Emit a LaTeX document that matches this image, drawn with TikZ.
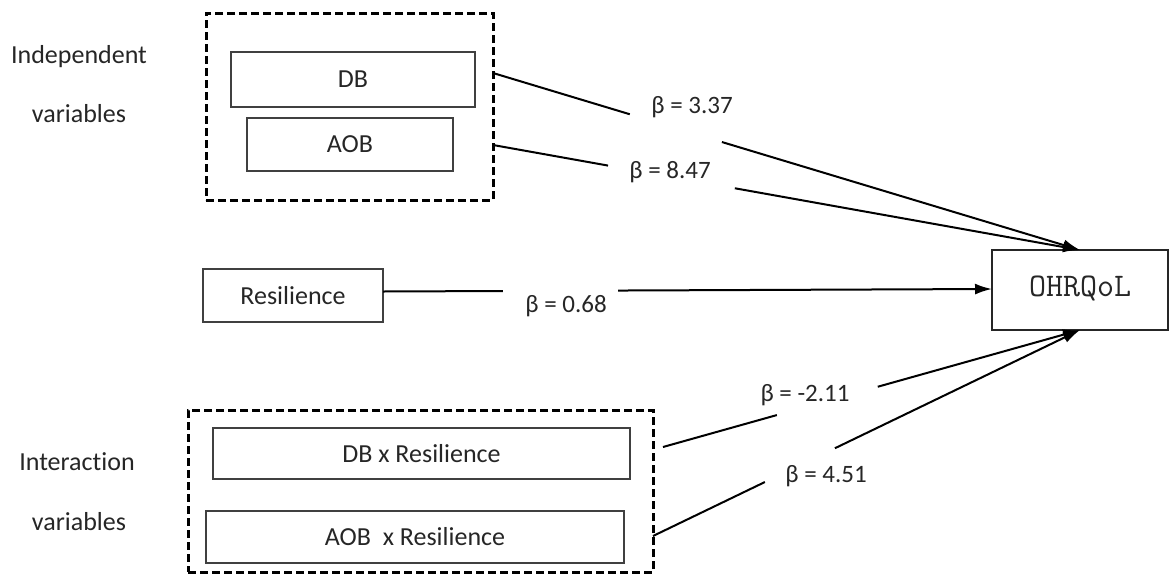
\documentclass[tikz,border=0pt]{standalone}
\usepackage{fontspec}
\setmainfont{Carlito}[Ligatures={NoCommon,NoRare}]
\usetikzlibrary{arrows.meta,calc}
\begin{document}
\begin{tikzpicture}[x=1pt,y=-1pt,
  every node/.style={font=\fontsize{26}{30}\selectfont, text=black!85},
  varbox/.style={draw=black!75, line width=1.6pt, inner sep=0pt, outer sep=0pt},
  group/.style={draw=black, line width=3pt, dash pattern=on 8pt off 4pt, inner sep=0pt, outer sep=0pt},
  link/.style={line width=2pt, black},
  tip/.style={link, -{Latex[length=17pt,width=11pt]}},
  coef/.style={anchor=base, font=\fontsize{25}{29}\selectfont},
  side/.style={anchor=base}]
\useasboundingbox (0,0) rectangle (1169,576);

% left-hand captions
\node[side] (capA1) at (79,63) {Independent};
\node[side] (capA2) at (79,122) {variables};
\node[side] (capB1) at (77,470) {Interaction};
\node[side] (capB2) at (79,530) {variables};

% independent variables
\node[group, minimum width=287pt, minimum height=187pt] (grpA) at (349.5,106.5) {};
\node[varbox, minimum width=244pt, minimum height=55pt] (db) at (353,79.5) {DB};
\node[varbox, minimum width=206pt, minimum height=53pt] (aob) at (350,144.5) {AOB};

% moderator
\node[varbox, minimum width=180pt, minimum height=53pt] (res) at (293,295.5) {Resilience};

% interaction terms
\node[group, minimum width=465pt, minimum height=162pt] (grpB) at (420.5,491) {};
\node[varbox, minimum width=417pt, minimum height=51pt] (dbr) at (421.5,453.5) {DB x Resilience};
\node[varbox, minimum width=418pt, minimum height=52pt] (aobr) at (415,537) {AOB\ \ x Resilience};

% outcome
\node[varbox, draw=black!85, minimum width=176pt, minimum height=80pt] (ohr) at (1080,290)
  {\raisebox{8pt}{\ttfamily\fontsize{33}{35}\selectfont OHRQoL}};

% start and end points of the paths
\coordinate (s1) at ([yshift=-60pt]grpA.north east);
\coordinate (s2) at ([yshift=-132pt]grpA.north east);
\coordinate (s3) at ([yshift=4pt]res.east);
\coordinate (s4) at ([xshift=10pt,yshift=44pt]grpB.east);
\coordinate (s5) at ([yshift=-45pt]grpB.east);
\coordinate (t3) at ([yshift=1pt]ohr.west);

% paths, each broken around its coefficient
\draw[link] (s1) -- ($(s1)!0.233!(ohr.north)$);
\draw[tip] ($(s1)!0.390!(ohr.north)$) -- (ohr.north);
\draw[link] (s2) -- ($(s2)!0.196!(ohr.north)$);
\draw[tip] ($(s2)!0.412!(ohr.north)$) -- (ohr.north);
\draw[link] (s3) -- ($(s3)!0.197!(t3)$);
\draw[tip] ($(s3)!0.386!(t3)$) -- (t3);
\draw[link] (s4) -- ($(s4)!0.273!(ohr.south)$);
\draw[tip] ($(s4)!0.515!(ohr.south)$) -- (ohr.south);
\draw[link] (s5) -- ($(s5)!0.262!(ohr.south)$);
\draw[tip] ($(s5)!0.426!(ohr.south)$) -- (ohr.south);

% path coefficients
\node[coef] (b1) at (692,113) {β = 3.37};
\node[coef] (b2) at (670,178) {β = 8.47};
\node[coef] (b3) at (566,312) {β = 0.68};
\node[coef] (b4) at (805,401) {β = -2.11};
\node[coef] (b5) at (826,482) {β = 4.51};
\end{tikzpicture}
\end{document}
